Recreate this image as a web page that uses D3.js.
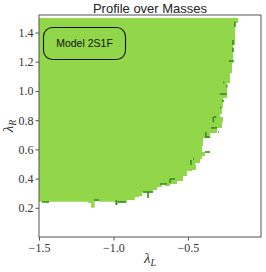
<!DOCTYPE html>
<html><head><meta charset="utf-8">
<script src="https://cdn.jsdelivr.net/npm/d3@7"></script>
<style>body{margin:0;background:#fff}svg{display:block}</style>
</head><body>
<script>
// ---- data ----
const title = "Profile over Masses";
const legendLabel = "Model 2S1F";
const xTicks = [-1.5, -1.0, -0.5];
const yTicks = [0.2, 0.4, 0.6, 0.8, 1.0, 1.2, 1.4];
// right edge of the allowed region: band i spans rightEdgeR[i] .. rightEdgeR[i+1], max λL = rightEdgeL[i]
const rightEdgeR = [1.50, 1.47, 1.32, 1.20, 1.13, 1.06, 0.96, 0.89, 0.85, 0.82, 0.79, 0.75, 0.72, 0.68, 0.63, 0.58, 0.56, 0.54, 0.51, 0.48, 0.46, 0.42, 0.39, 0.37, 0.356, 0.34, 0.32, 0.0];
const rightEdgeL = [-0.166, -0.185, -0.195, -0.205, -0.215, -0.238, -0.265, -0.272, -0.285, -0.265, -0.272, -0.305, -0.352, -0.399, -0.406, -0.386, -0.406, -0.419, -0.453, -0.473, -0.507, -0.534, -0.574, -0.621, -0.641, -0.688, -0.70];
// bottom edge: column i spans bottomEdgeL[i] .. bottomEdgeL[i+1], min λR = bottomEdgeR[i]
const bottomEdgeL = [-1.50, -1.17, -1.15, -1.13, -1.10, -0.99, -0.975, -0.915, -0.86, -0.83, -0.81, -0.74, -0.71, -0.68, -0.65, 0.0];
const bottomEdgeR = [0.242, 0.232, 0.20, 0.25, 0.242, 0.222, 0.236, 0.253, 0.274, 0.281, 0.308, 0.322, 0.342, 0.363, 0.35];
// detached allowed cells [λL0, λL1, λR0, λR1]
const isolatedCells = [[-0.473, -0.446, 0.459, 0.493], [-0.285, -0.272, 0.781, 0.801]];
// darker points (segments of them) [[λL, λR], [λL, λR]]
const darkSegments = [
 [[-0.185,1.473],[-0.185,1.438]],
 [[-0.198,1.349],[-0.198,1.315]],
 [[-0.198,1.295],[-0.198,1.267]],
 [[-0.225,1.205],[-0.191,1.205]],
 [[-0.265,1.058],[-0.255,1.058]],
 [[-0.240,1.040],[-0.240,1.025]],
 [[-0.285,0.979],[-0.238,0.979]],
 [[-0.265,0.940],[-0.265,0.925]],
 [[-0.285,0.886],[-0.278,0.886]],
 [[-0.330,0.822],[-0.310,0.822]],
 [[-0.330,0.822],[-0.330,0.785]],
 [[-0.345,0.747],[-0.305,0.747]],
 [[-0.380,0.719],[-0.380,0.678]],
 [[-0.380,0.684],[-0.352,0.684]],
 [[-0.299,0.719],[-0.292,0.719]],
 [[-0.386,0.582],[-0.352,0.582]],
 [[-0.466,0.534],[-0.459,0.534]],
 [[-0.480,0.527],[-0.480,0.493]],
 [[-0.621,0.397],[-0.587,0.397]],
 [[-0.621,0.397],[-0.621,0.370]],
 [[-0.688,0.363],[-0.641,0.363]],
 [[-0.802,0.308],[-0.735,0.308]],
 [[-0.768,0.308],[-0.768,0.267]],
 [[-0.980,0.253],[-0.980,0.219]],
 [[-0.970,0.240],[-0.915,0.240]],
 [[-1.480,0.240],[-1.433,0.240]],
 [[-1.131,0.253],[-1.097,0.253]]
];

// ---- layout ----
const W = 266, H = 272;
const M = {left: 39, right: 5, top: 15, bottom: 35};
const x = d3.scaleLinear().domain([-1.5, -0.01]).range([M.left, W - M.right]);
const y = d3.scaleLinear().domain([0, 1.52]).range([H - M.bottom, M.top]);
const light = "#92d64a", dark = "#33901f", axisCol = "#555", txtCol = "#333";

const svg = d3.select("body").append("svg").attr("width", W).attr("height", H);

// clip: bottom edge columns
const clip = svg.append("defs").append("clipPath").attr("id", "bottomClip");
clip.selectAll("rect").data(bottomEdgeR).join("rect")
  .attr("x", (d, i) => x(bottomEdgeL[i]))
  .attr("width", (d, i) => x(bottomEdgeL[i + 1]) - x(bottomEdgeL[i]) + 0.5)
  .attr("y", y(1.52))
  .attr("height", d => y(d) - y(1.52))
  .attr("shape-rendering", "crispEdges");

const plot = svg.append("g");
plot.append("g").attr("clip-path", "url(#bottomClip)")
  .selectAll("rect").data(rightEdgeL).join("rect")
  .attr("x", x(-1.5))
  .attr("width", d => x(d) - x(-1.5))
  .attr("y", (d, i) => y(rightEdgeR[i]))
  .attr("height", (d, i) => y(rightEdgeR[i + 1]) - y(rightEdgeR[i]) + 0.8)
  .attr("fill", light)
  .attr("shape-rendering", "crispEdges");

plot.selectAll("rect.iso").data(isolatedCells).join("rect").attr("class", "iso")
  .attr("x", d => x(d[0])).attr("width", d => x(d[1]) - x(d[0]))
  .attr("y", d => y(d[3])).attr("height", d => y(d[2]) - y(d[3]))
  .attr("fill", light).attr("shape-rendering", "crispEdges");

const line = d3.line().x(d => x(d[0])).y(d => y(d[1]));
plot.selectAll("path.dk").data(darkSegments).join("path").attr("class", "dk")
  .attr("d", line).attr("stroke", dark).attr("stroke-width", 1.6).attr("fill", "none");

// frame
svg.append("rect").attr("x", x.range()[0]).attr("y", y.range()[1])
  .attr("width", x.range()[1] - x.range()[0]).attr("height", y.range()[0] - y.range()[1])
  .attr("fill", "none").attr("stroke", axisCol).attr("stroke-width", 1);

const fmt = v => (v < 0 ? "\u2212" : "") + Math.abs(v).toFixed(1);
const xAxis = svg.append("g").attr("transform", `translate(0,${y.range()[0]})`)
  .call(d3.axisBottom(x).tickValues(xTicks).tickFormat(fmt).tickSize(3.5).tickPadding(3));
const yAxis = svg.append("g").attr("transform", `translate(${x.range()[0]},0)`)
  .call(d3.axisLeft(y).tickValues(yTicks).tickFormat(fmt).tickSize(3.5).tickPadding(2));
[xAxis, yAxis].forEach(a => {
  a.select(".domain").remove();
  a.selectAll(".tick line").attr("stroke", axisCol);
  a.selectAll(".tick text").attr("fill", txtCol)
    .style("font-family", "'Liberation Serif', 'DejaVu Serif', serif").style("font-size", "12px");
});

// title
svg.append("text").attr("x", (x.range()[0] + x.range()[1]) / 2).attr("y", 12.5)
  .attr("text-anchor", "middle").attr("fill", "#222")
  .style("font-family", "'Liberation Sans', Arial, sans-serif").style("font-size", "13px")
  .text(title);

// axis labels
const xl = svg.append("text").attr("x", (x.range()[0] + x.range()[1]) / 2).attr("y", 263)
  .attr("text-anchor", "middle").attr("fill", txtCol)
  .style("font-family", "'Liberation Serif', 'DejaVu Serif', serif").style("font-style", "italic");
xl.append("tspan").style("font-size", "15px").text("\u03bb");
xl.append("tspan").style("font-size", "10px").attr("dy", 3).text("L");

const yl = svg.append("text").attr("transform", `translate(13,${(y.range()[0] + y.range()[1]) / 2}) rotate(-90)`)
  .attr("text-anchor", "middle").attr("fill", txtCol)
  .style("font-family", "'Liberation Serif', 'DejaVu Serif', serif").style("font-style", "italic");
yl.append("tspan").style("font-size", "15px").text("\u03bb");
yl.append("tspan").style("font-size", "10px").attr("dy", 3).text("R");

// legend box
const lg = svg.append("g");
lg.append("rect").attr("x", 43.5).attr("y", 27.5).attr("width", 82).attr("height", 32)
  .attr("rx", 9).attr("ry", 9).attr("fill", "none").attr("stroke", "#111").attr("stroke-width", 1.1);
lg.append("text").attr("x", 84.5).attr("y", 47.3).attr("text-anchor", "middle").attr("fill", "#111")
  .style("font-family", "'Liberation Sans', Arial, sans-serif").style("font-size", "10.5px")
  .text(legendLabel);
</script>
</body></html>
